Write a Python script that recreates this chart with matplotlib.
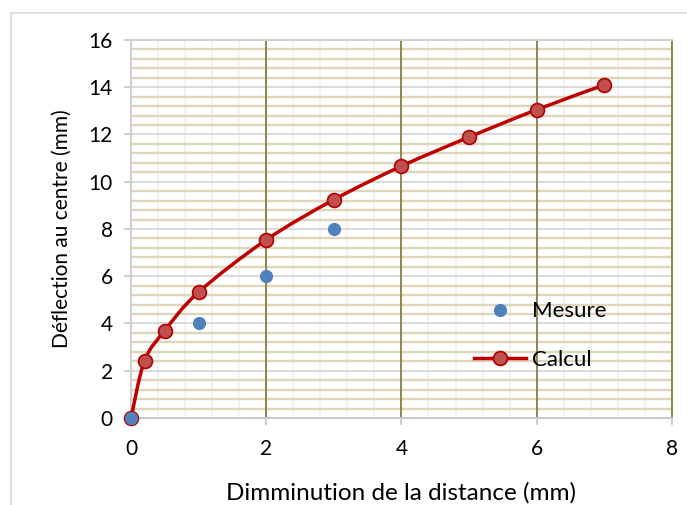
import numpy as np
import matplotlib.pyplot as plt
from matplotlib.path import Path
from matplotlib.patches import PathPatch, Rectangle
from matplotlib.lines import Line2D
from matplotlib.ticker import MultipleLocator

# Données
calcul_x = [0, 0.2, 0.5, 1, 2, 3, 4, 5, 6, 7]
calcul_y = [0, 2.42, 3.70, 5.33, 7.54, 9.24, 10.66, 11.89, 13.05, 14.1]
mesure_x = [0, 1, 2, 3]
mesure_y = [0, 4, 6, 8]

plt.rcParams['font.family'] = ['Lato', 'DejaVu Sans']


def smooth_path(xs, ys, tension=1 / 6):
    # courbe lissée type Excel (Bezier passant par les points)
    pts = np.column_stack([xs, ys]).astype(float)
    verts = [pts[0]]
    codes = [Path.MOVETO]
    n = len(pts)
    for i in range(n - 1):
        p0 = pts[i - 1] if i > 0 else pts[i]
        p1 = pts[i]
        p2 = pts[i + 1]
        p3 = pts[i + 2] if i + 2 < n else pts[i + 1]
        c1 = p1 + (p2 - p0) * tension
        c2 = p2 - (p3 - p1) * tension
        verts += [c1, c2, p2]
        codes += [Path.CURVE4] * 3
    return Path(verts, codes)


fig = plt.figure(figsize=(6.87, 5.05), dpi=100)
ax = fig.add_axes([0.1907, 0.1723, 0.7873, 0.7485])

# cadre extérieur
fig.patches.append(Rectangle((0.016, -0.01), 1.0, 0.984, transform=fig.transFigure,
                             fill=False, edgecolor='#d9d9d9', linewidth=1.2))

ax.set_xlim(0, 8)
ax.set_ylim(0, 16)
ax.xaxis.set_major_locator(MultipleLocator(2))
ax.xaxis.set_minor_locator(MultipleLocator(0.4))
ax.yaxis.set_major_locator(MultipleLocator(2))
ax.yaxis.set_minor_locator(MultipleLocator(0.4))

ax.grid(which='minor', axis='y', color='#ddd6bb', linewidth=1.7)
ax.grid(which='minor', axis='x', color='#f0f0f0', linewidth=1.2)
ax.grid(which='major', axis='y', color='#d9d9d9', linewidth=1.4)
ax.set_axisbelow(True)
# grille principale verticale (olive) par-dessus la grille secondaire
for xt in ax.get_xticks():
    ax.axvline(xt, color='#8f8550', linewidth=1.4, zorder=0.9)

for s in ['top', 'left']:
    ax.spines[s].set_color('#d0d0d0')
    ax.spines[s].set_linewidth(1.4)
ax.spines['right'].set_color('#8f8550')
ax.spines['right'].set_linewidth(1.4)
ax.spines['bottom'].set_color('#c8c8c8')
ax.spines['bottom'].set_linewidth(1.4)

ax.tick_params(which='minor', length=0)
ax.tick_params(which='major', length=5, color='#c8c8c8', width=1.2, labelsize=15,
               labelcolor='black')
ax.tick_params(axis='x', pad=10)
ax.tick_params(axis='y', pad=8)

ax.add_patch(PathPatch(smooth_path(calcul_x, calcul_y), transform=ax.transData,
                       facecolor='none', edgecolor='#c00000', linewidth=2.5,
                       zorder=3, clip_on=False))
ax.plot(calcul_x, calcul_y, linestyle='none', marker='o', markersize=10,
        markerfacecolor='#c0504d', markeredgecolor='#b00000', markeredgewidth=1.2,
        zorder=4, clip_on=False)
ax.plot(mesure_x, mesure_y, linestyle='none', marker='o', markersize=8.5,
        color='#4f81bd', zorder=5, clip_on=False)

handles = [
    Line2D([], [], linestyle='none', marker='o', markersize=8.5, color='#4f81bd'),
    Line2D([], [], color='#c00000', linewidth=2.5, marker='o', markersize=10,
           markerfacecolor='#c0504d', markeredgecolor='#b00000', markeredgewidth=1.2),
]
ax.legend(handles, ['Mesure', 'Calcul'], loc='center left',
          bbox_to_anchor=(0.598, 0.218), frameon=False, fontsize=16,
          handlelength=2.3, handletextpad=0.27, labelspacing=1.28)

ax.set_xlabel('Dimminution de la distance (mm)', fontsize=17.5, labelpad=17)
ax.set_ylabel('Déflection au centre (mm)', fontsize=15, labelpad=12)

fig.savefig('out.png', dpi=100, facecolor='white')
